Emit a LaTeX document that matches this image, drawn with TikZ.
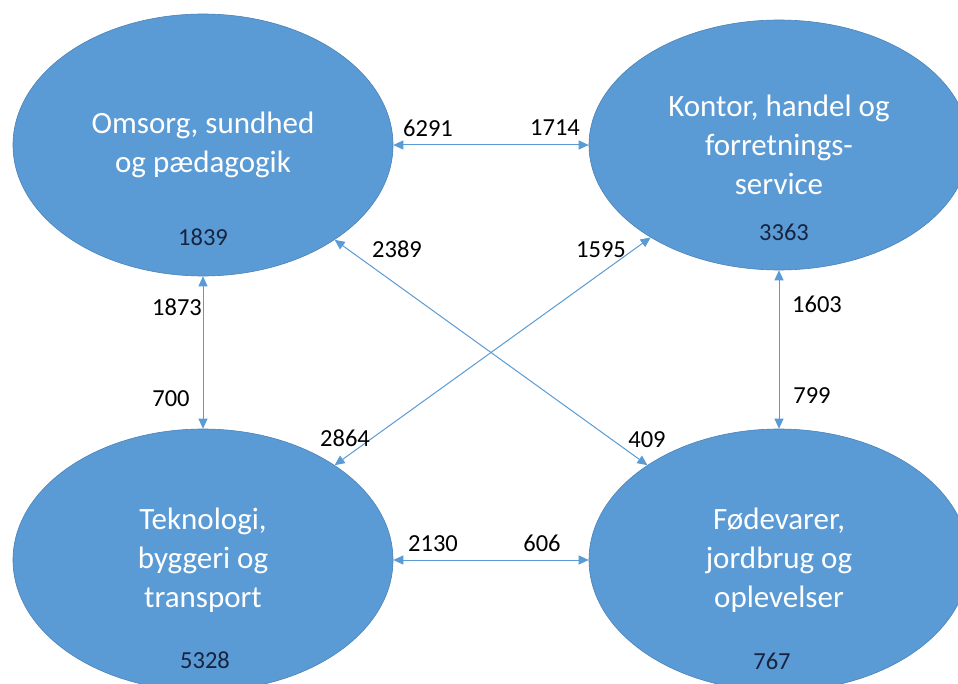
\documentclass[tikz,border=0pt]{standalone}
\usepackage{fontspec}
\setmainfont{Carlito}
\usetikzlibrary{shapes.geometric,arrows.meta}
\definecolor{sectorblue}{HTML}{5B9BD5}
\definecolor{sectorline}{HTML}{4A82B8}
\definecolor{innum}{HTML}{16243F}

\begin{document}
\begin{tikzpicture}[x=1pt,y=-1pt,
  sector/.style={ellipse,fill=sectorblue,draw=sectorline,line width=0.6pt,
    minimum width=380pt,minimum height=262pt,inner sep=0pt,align=center,
    text=white,font=\fontsize{31}{39}\selectfont},
  flow/.style={{Triangle[length=10pt,width=9pt]}-{Triangle[length=10pt,width=9pt]},
    draw=sectorblue,line width=1pt},
  num/.style={font=\fontsize{24.5}{24.5}\selectfont,inner sep=0pt}]
  \clip (0,0) rectangle (958,684);
  \fill[white] (0,0) rectangle (958,684);

  \node[sector] (om) at (203,145) {Omsorg, sundhed\\og pædagogik};
  \node[sector,minimum height=250pt] (ko) at (779,145) {Kontor, handel og\\forretnings-\\service};
  \node[sector] (te) at (203,560) {Teknologi,\\byggeri og\\transport};
  \node[sector] (fo) at (779,560) {Fødevarer,\\jordbrug og\\oplevelser};

  \draw[flow] (om) -- (ko);
  \draw[flow] (om) -- (te);
  \draw[flow] (om) -- (fo);
  \draw[flow] (ko) -- (te);
  \draw[flow] (ko) -- (fo);
  \draw[flow] (te) -- (fo);

  \node[num,text=innum] (n1839) at (203,237) {1839};
  \node[num,text=innum] (n3363) at (784,232) {3363};
  \node[num,text=innum] (n5328) at (205,660) {5328};
  \node[num,text=innum] (n767) at (772,661) {767};

  \node[num] (n6291) at (428,128) {6291};
  \node[num] (n1714) at (555,128) {1714};
  \node[num] (n2389) at (397,249) {2389};
  \node[num] (n1595) at (601,250) {1595};
  \node[num] (n1873) at (177,307) {1873};
  \node[num] (n700) at (171,399) {700};
  \node[num] (n1603) at (817,304) {1603};
  \node[num] (n799) at (812,396) {799};
  \node[num] (n2864) at (345,438) {2864};
  \node[num] (n409) at (647,440) {409};
  \node[num] (n2130) at (433,544) {2130};
  \node[num] (n606) at (542,543) {606};
\end{tikzpicture}
\end{document}
